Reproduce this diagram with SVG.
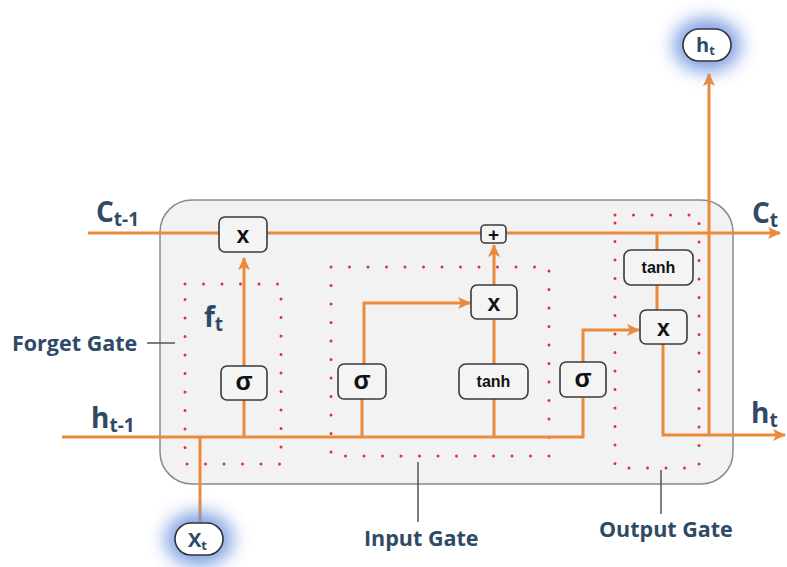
<svg xmlns="http://www.w3.org/2000/svg" width="787" height="567" viewBox="0 0 787 567">
<defs>
<marker id="arr" markerUnits="userSpaceOnUse" markerWidth="14" markerHeight="14" refX="12" refY="7" orient="auto">
<path d="M0,1 L13,7 L0,13 L3,7 Z" fill="#ec8a3c"/>
</marker>
<filter id="blur" x="-1" y="-1" width="3" height="3"><feGaussianBlur stdDeviation="9"/></filter>
<style>
.bg{fill:#f2f2f2;stroke:#8a8a8a;stroke-width:1.5}
.ln{fill:none;stroke:#ec8a3c;stroke-width:3}
.dot{fill:none;stroke:#e0303a;stroke-width:3;stroke-linecap:round;stroke-dasharray:0 18.5}
.box{fill:#f4f4f4;stroke:#3a3a3a;stroke-width:1.6}
.bt{font-family:"Liberation Sans",Arial,sans-serif;font-weight:bold;fill:#111;text-anchor:middle}
.lab{font-family:"Open Sans","Liberation Sans",sans-serif;font-weight:bold;fill:#2e4a66}
.sym{font-family:"Open Sans","Liberation Sans",sans-serif;font-weight:bold;fill:#2e4a66}
.ptr{stroke:#555;stroke-width:1.5;fill:none}
.glow{fill:#6f95e0;opacity:0.9}
.oval{fill:#fff;stroke:#333;stroke-width:1.6}
</style>
</defs>

<rect class="bg" x="160" y="200" width="573" height="284" rx="32"/>

<g id="gate-outlines">
<rect class="dot" x="185" y="284" width="96" height="180"/>
<rect class="dot" x="331" y="267" width="218" height="189"/>
<rect class="dot" x="615" y="215" width="84" height="253"/>
</g>

<g id="connectors">
<path class="ln" d="M88,233 H780" marker-end="url(#arr)"/>
<path class="ln" d="M62,437 H583 V398"/>
<path class="ln" d="M244,437 V400"/>
<path class="ln" d="M244,366 V258" marker-end="url(#arr)"/>
<path class="ln" d="M200,437 V523"/>
<path class="ln" d="M362,437 V399"/>
<path class="ln" d="M364,364 V303 H470" marker-end="url(#arr)"/>
<path class="ln" d="M494,437 V399"/>
<path class="ln" d="M494,364 V320"/>
<path class="ln" d="M494,285 V245" marker-end="url(#arr)"/>
<path class="ln" d="M583,362 V330 H639" marker-end="url(#arr)"/>
<path class="ln" d="M657,233 V250"/>
<path class="ln" d="M657,285 V310"/>
<path class="ln" d="M663,344 V435 H785" marker-end="url(#arr)"/>
<path class="ln" d="M709,435 V74" marker-end="url(#arr)"/>
<path class="ptr" d="M147,343 H175"/>
<path class="ptr" d="M418,462 V522"/>
<path class="ptr" d="M661,470 V514"/>
</g>

<g id="forget-mult"><rect class="box" x="219" y="217" width="48" height="35" rx="6"/><text class="bt" x="243" y="243" font-size="23">x</text></g>
<g id="forget-sigma"><rect class="box" x="221" y="366" width="46" height="34" rx="6"/><text class="bt" x="244" y="390" font-size="25">σ</text></g>

<g id="input-sigma"><rect class="box" x="338" y="364" width="48" height="35" rx="6"/><text class="bt" x="362" y="389" font-size="25">σ</text></g>
<g id="input-tanh"><rect class="box" x="459" y="364" width="69" height="35" rx="7"/><text class="bt" x="493.5" y="387" font-size="16">tanh</text></g>
<g id="input-mult"><rect class="box" x="471" y="285" width="46" height="34" rx="6"/><text class="bt" x="494" y="311" font-size="23">x</text></g>
<g id="add"><rect class="box" x="481" y="225" width="25" height="18" rx="4"/><text class="bt" x="493.5" y="241" font-size="19">+</text></g>

<g id="output-sigma"><rect class="box" x="560" y="362" width="46" height="35" rx="6"/><text class="bt" x="583" y="387" font-size="25">σ</text></g>
<g id="output-tanh"><rect class="box" x="624" y="250" width="69" height="35" rx="7"/><text class="bt" x="658.5" y="273" font-size="16">tanh</text></g>
<g id="output-mult"><rect class="box" x="640" y="310" width="47" height="34" rx="6"/><text class="bt" x="663.5" y="336" font-size="23">x</text></g>

<g id="xt">
<ellipse class="glow" cx="199" cy="539" rx="34" ry="27" filter="url(#blur)"/>
<rect class="oval" x="175" y="523" width="48" height="32" rx="16"/>
<text class="sym" x="188" y="547" font-size="20">X<tspan font-size="13" dy="3">t</tspan></text>
</g>
<g id="ht-out">
<ellipse class="glow" cx="707" cy="45" rx="34" ry="27" filter="url(#blur)"/>
<rect class="oval" x="683" y="29" width="48" height="32" rx="16"/>
<text class="sym" x="696" y="52" font-size="20">h<tspan font-size="13" dy="3">t</tspan></text>
</g>

<g id="labels">
<text class="sym" x="96" y="222" font-size="28">C<tspan font-size="19" dy="4">t-1</tspan></text>
<text class="sym" x="91" y="428" font-size="28">h<tspan font-size="19" dy="4">t-1</tspan></text>
<text class="sym" x="752" y="223" font-size="28">C<tspan font-size="19" dy="4">t</tspan></text>
<text class="sym" x="751" y="423" font-size="28">h<tspan font-size="19" dy="4">t</tspan></text>
<text class="sym" x="204" y="327" font-size="28">f<tspan font-size="19" dy="4">t</tspan></text>
<text class="lab" x="12" y="351" font-size="21.5">Forget Gate</text>
<text class="lab" x="364" y="546" font-size="21.5">Input Gate</text>
<text class="lab" x="599" y="537" font-size="21.5">Output Gate</text>
</g>
</svg>
